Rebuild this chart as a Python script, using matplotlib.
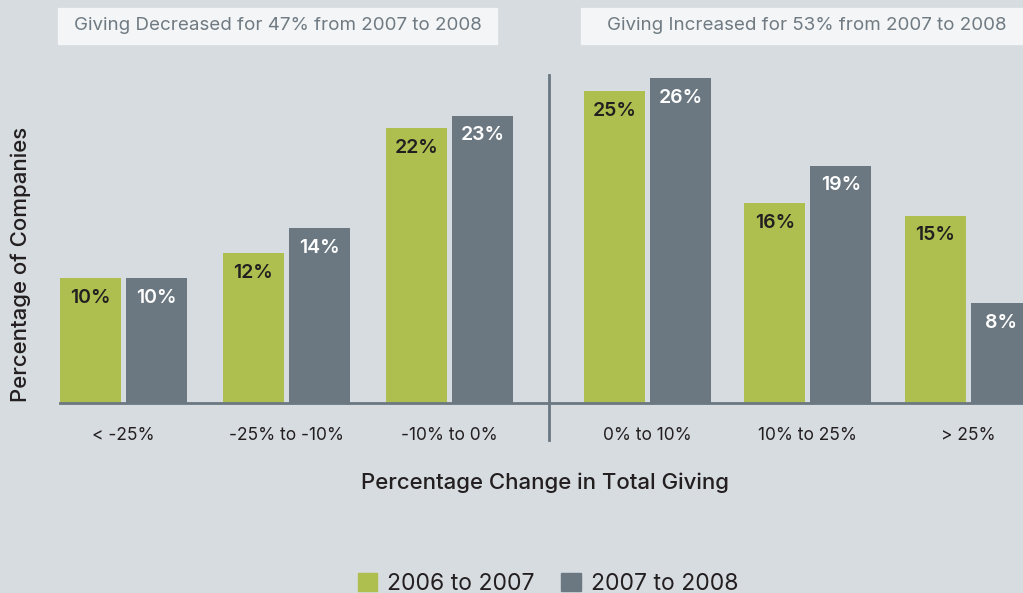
import matplotlib
matplotlib.use('Agg')
import matplotlib.pyplot as plt
from matplotlib.patches import Patch
import numpy as np

# Survey results: share of companies per giving-change bracket
categories = ['< -25%', '-25% to -10%', '-10% to 0%', '0% to 10%', '10% to 25%', '> 25%']
series_names = ['2006 to 2007', '2007 to 2008']
giving_2006_2007 = [10, 12, 22, 25, 16, 15]
giving_2007_2008 = [10, 14, 23, 26, 19, 8]
header_left = 'Giving Decreased for 47% from 2007 to 2008'
header_right = 'Giving Increased for 53% from 2007 to 2008'

GREEN = '#aebf4f'
SLATE = '#6b7881'
BG = '#d7dce0'
DARK = '#231f20'

plt.rcParams['font.family'] = ['Inter', 'DejaVu Sans']

fig = plt.figure(figsize=(10.23, 5.93), dpi=100, facecolor=BG)
W, H = 1023, 593
PX = 163.0  # pixels per category step
# axes from the baseline (y=403px) to the top of the figure, left edge at x=60px
ax = fig.add_axes([60 / W, (H - 403) / H, 1 - 60 / W, 403 / H])
ax.set_facecolor(BG)

# groups 0-2 on the "decreased" side, 3-5 shifted right past the divider
x = np.concatenate([np.arange(3.0), 3.215 + 0.983 * np.arange(3.0)])
width = 61 / PX
offset = 33 / PX

b1 = ax.bar(x - offset, giving_2006_2007, width, color=GREEN, zorder=2)
b2 = ax.bar(x + offset, giving_2007_2008, width, color=SLATE, zorder=2)

for rects, vals, col in [(b1, giving_2006_2007, DARK), (b2, giving_2007_2008, 'white')]:
    for r, v in zip(rects, vals):
        ax.text(r.get_x() + r.get_width() / 2, v - 1.6, f'{v}%', ha='center', va='center',
                fontsize=14, fontweight='semibold', color=col, zorder=3)

left = -offset - width / 2
ax.set_xlim(left, left + 963 / PX)
ax.set_ylim(0, 403 / 12.5)

# baseline and the divider between the halves
ax.axhline(0, color=SLATE, lw=2, zorder=3, clip_on=False)
div_x = left + (548.5 - 60) / PX
ax.plot([div_x, div_x], [-37 / 12.5, (403 - 75) / 12.5], color=SLATE, lw=2, clip_on=False, zorder=3)

for s in ax.spines.values():
    s.set_visible(False)
ax.set_yticks([])
ax.set_xticks(x)
ax.set_xticklabels(categories, fontsize=12.5, color=DARK)
ax.tick_params(axis='x', length=0, pad=17)

fig.text(21 / W, 1 - 264 / H, 'Percentage of Companies', rotation=90, ha='center', va='center',
         fontsize=16, fontweight='medium', color=DARK)
fig.text(545 / W, 1 - 483 / H, 'Percentage Change in Total Giving', ha='center', va='center',
         fontsize=16, fontweight='medium', color=DARK)

# header boxes above each half
fig.patches.append(plt.Rectangle((58 / W, 1 - 44 / H), 439 / W, 36 / H, transform=fig.transFigure,
                                 color='#f3f5f6', zorder=1))
fig.patches.append(plt.Rectangle((581 / W, 1 - 44 / H), 442 / W, 36 / H, transform=fig.transFigure,
                                 color='#f3f5f6', zorder=1))
fig.text(277.5 / W, 1 - 26 / H, header_left, ha='center', va='center', fontsize=13.5, color='#6f7a82')
fig.text(806.5 / W, 1 - 26 / H, header_right, ha='center', va='center', fontsize=13.5, color='#6f7a82')

handles = [Patch(color=GREEN), Patch(color=SLATE)]
fig.legend(handles, series_names, loc='center', bbox_to_anchor=(548 / W, 1 - 584 / H), ncol=2,
           frameon=False, fontsize=16.5, handlelength=0.85, handleheight=0.85, handletextpad=0.45,
           columnspacing=1.15, labelcolor=DARK)

fig.savefig('out.png', dpi=100, facecolor=BG)
